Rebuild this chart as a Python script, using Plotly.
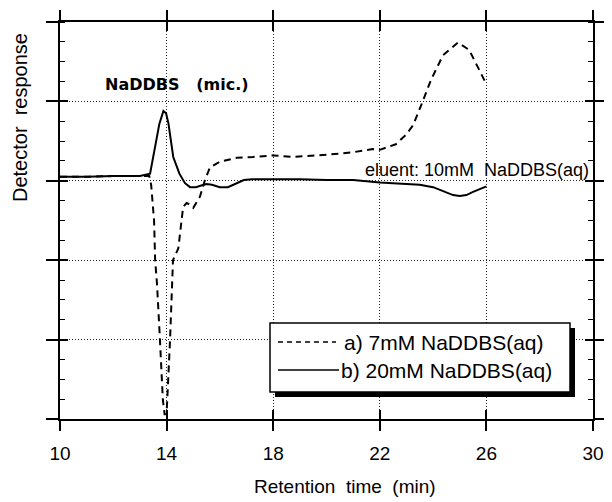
import plotly.graph_objects as go

# ---------------- data ----------------
series_a_name = "a) 7mM NaDDBS(aq)"
series_b_name = "b) 20mM NaDDBS(aq)"

time_a = [10, 11, 12, 13, 13.35, 13.42, 13.48, 13.53, 13.57, 13.64, 13.75, 13.86, 13.93,
          14.01, 14.13, 14.24, 14.44, 14.53, 14.62, 14.75, 14.88, 15.0, 15.25, 15.44, 15.63,
          16.0, 16.64, 17.24, 18.0, 18.74, 19.23, 20.47, 21.0, 21.74, 22.0, 22.6, 22.98,
          23.25, 23.55, 23.92, 24.37, 24.93, 25.35, 25.72, 25.98]
resp_a = [3.05, 3.05, 3.06, 3.06, 3.06, 2.95, 2.67, 2.5, 2.0, 1.7, 1.0, 0.24, 0.05,
          0.14, 1.0, 2.0, 2.15, 2.45, 2.67, 2.72, 2.70, 2.66, 2.80, 3.01, 3.17,
          3.24, 3.29, 3.30, 3.32, 3.30, 3.31, 3.34, 3.36, 3.40, 3.39, 3.46, 3.58,
          3.70, 3.95, 4.27, 4.58, 4.74, 4.65, 4.40, 4.23]

time_b = [10, 11, 12, 13, 13.38, 13.5, 13.6, 13.73, 13.88, 13.98, 14.07, 14.15, 14.25,
          14.48, 14.69, 14.88, 15.1, 15.3, 15.5, 15.7, 16.0, 16.3, 16.6, 16.9, 17.2,
          18.0, 19.0, 20.0, 21.0, 22.0, 23.0, 23.5, 24.0, 24.4, 24.75, 25.0, 25.25,
          25.5, 25.75, 26.0]
resp_b = [3.05, 3.05, 3.06, 3.06, 3.09, 3.30, 3.51, 3.72, 3.88, 3.85, 3.72, 3.51, 3.30,
          3.09, 2.97, 2.92, 2.92, 2.94, 2.96, 2.95, 2.92, 2.92, 2.96, 3.01, 3.02,
          3.02, 3.02, 3.01, 3.01, 2.98, 2.96, 2.95, 2.92, 2.87, 2.82, 2.81, 2.82,
          2.86, 2.89, 2.93]

x_ticks = [10, 14, 18, 22, 26, 30]
x_tick_labels = ["10", "14", "18", "22", "26", "30"]

# ---------------- layout helpers ----------------
OFF = 8                      # default page body margin
W, H = 612 - OFF, 502 - OFF  # figure size so it fits the window
# plot area in window pixels
L, R, T, B = 60, 593, 22, 419
PW, PH = R - L, B - T


def px(xp):
    return (xp - L) / PW


def py(yp):
    return (B - yp) / PH


FONT = "Liberation Sans, Arial, Helvetica, sans-serif"

fig = go.Figure()
fig.add_trace(go.Scatter(x=time_a, y=resp_a, mode="lines", name=series_a_name,
                         line=dict(color="black", width=2, dash="7px,5px"),
                         showlegend=False))
fig.add_trace(go.Scatter(x=time_b, y=resp_b, mode="lines", name=series_b_name,
                         line=dict(color="black", width=2),
                         showlegend=False))
# invisible trace to carry overlay axes (crossing ticks)
fig.add_trace(go.Scatter(x=[10], y=[0], xaxis="x2", yaxis="y2", mode="markers",
                         marker=dict(opacity=0), showlegend=False, hoverinfo="skip"))

grid_common = dict(gridcolor="#222", gridwidth=1, griddash="1px,2px")

fig.update_layout(
    width=W, height=H,
    margin=dict(l=L - OFF, r=612 - R, t=T - OFF, b=502 - B, autoexpand=False),
    paper_bgcolor="white", plot_bgcolor="white",
    font=dict(family=FONT, color="black"),
    xaxis=dict(range=[10, 30], tickvals=x_ticks, ticktext=x_tick_labels,
               showline=True, linecolor="black", linewidth=2, mirror="ticks",
               ticks="outside", ticklen=10, tickwidth=1.5, tickcolor="black",
               tickfont=dict(size=19, family=FONT), ticklabelstandoff=6,
               showgrid=True, zeroline=False, **grid_common),
    yaxis=dict(range=[0, 5], dtick=1, tick0=0, showticklabels=False,
               showline=True, linecolor="black", linewidth=2, mirror="ticks",
               ticks="outside", ticklen=12, tickwidth=1.5, tickcolor="black",
               minor=dict(ticks="inside", ticklen=5, tickwidth=1.2, tickcolor="black",
                          dtick=0.25, showgrid=False),
               showgrid=True, zeroline=False, **grid_common),
    xaxis2=dict(range=[10, 30], tickvals=x_ticks, showticklabels=False,
                overlaying="x", matches="x", ticks="inside", ticklen=9, tickwidth=1.5,
                tickcolor="black", mirror="ticks", showline=False, showgrid=False,
                zeroline=False),
    yaxis2=dict(range=[0, 5], dtick=1, tick0=0, showticklabels=False,
                overlaying="y", matches="y", ticks="inside", ticklen=8, tickwidth=1.5,
                tickcolor="black", mirror="ticks", showline=False, showgrid=False,
                zeroline=False),
)

shapes = []
# legend shadow + box
shapes.append(dict(type="rect", xref="paper", yref="paper",
                   x0=px(275), x1=px(575), y0=py(397), y1=py(328),
                   fillcolor="black", line=dict(width=0)))
shapes.append(dict(type="rect", xref="paper", yref="paper",
                   x0=px(270), x1=px(570), y0=py(392), y1=py(323),
                   fillcolor="white", line=dict(color="black", width=1.5)))
shapes.append(dict(type="line", xref="paper", yref="paper",
                   x0=px(278), x1=px(336), y0=py(342), y1=py(342),
                   line=dict(color="black", width=1.5, dash="5px,4px")))
shapes.append(dict(type="line", xref="paper", yref="paper",
                   x0=px(278), x1=px(339), y0=py(370), y1=py(370),
                   line=dict(color="black", width=1.5)))
fig.update_layout(shapes=shapes)

annotations = [
    dict(text=series_a_name, x=px(342), y=py(342), xanchor="left", yanchor="middle",
         font=dict(size=21)),
    dict(text=series_b_name, x=px(339), y=py(370), xanchor="left", yanchor="middle",
         font=dict(size=21)),
    dict(text="<b>NaDDBS\u00a0\u00a0\u00a0(mic.)</b>", x=px(103), y=py(84),
         xanchor="left", yanchor="middle",
         font=dict(size=16, family="DejaVu Sans, sans-serif")),
    dict(text="eluent: 10mM\u00a0 NaDDBS(aq)", x=px(363), y=py(170),
         xanchor="left", yanchor="middle", font=dict(size=18)),
    dict(text="Retention\u00a0 time\u00a0 (min)", x=px(345), y=py(486),
         xanchor="center", yanchor="middle", font=dict(size=19)),
    dict(text="Detector\u00a0 response", x=px(20), y=py(118), textangle=-90,
         xanchor="center", yanchor="middle", font=dict(size=20)),
]
for a in annotations:
    a.update(xref="paper", yref="paper", showarrow=False)
fig.update_layout(annotations=annotations)

fig.write_html("out.html")
